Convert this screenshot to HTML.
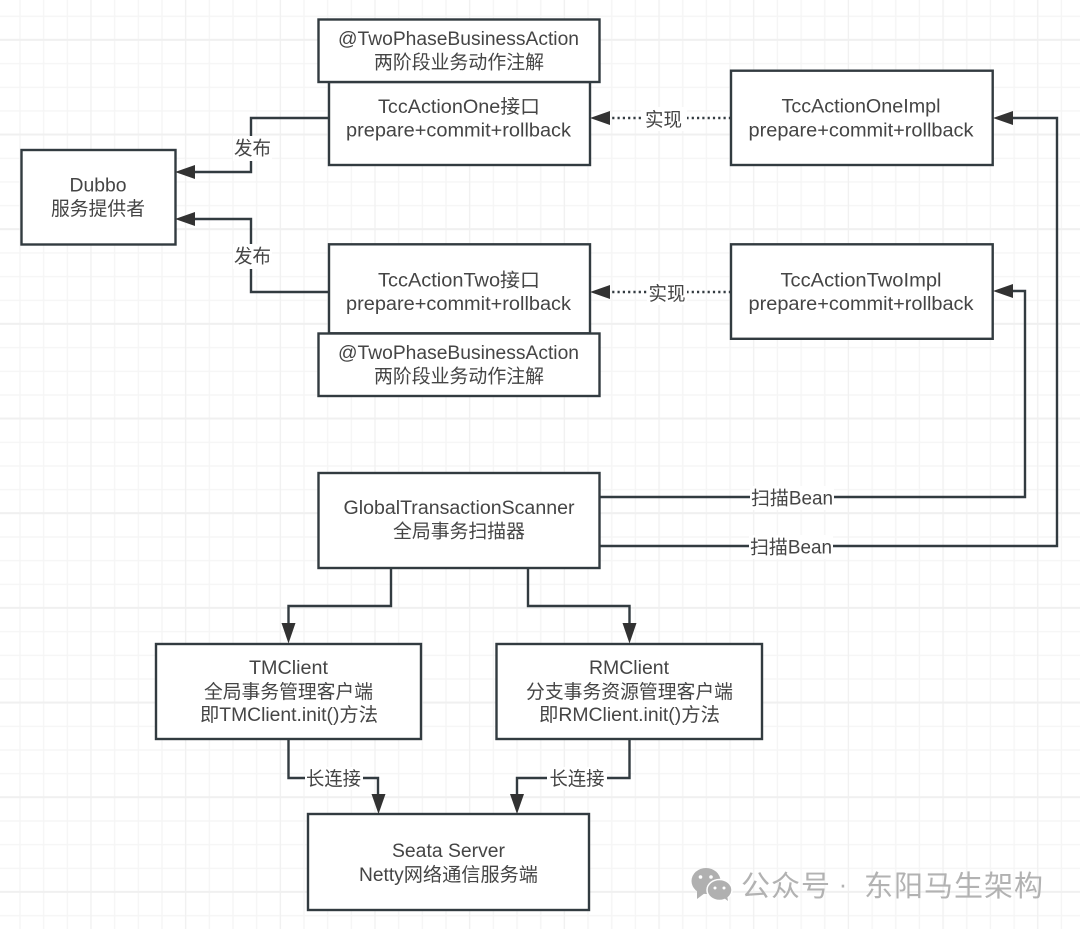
<!DOCTYPE html>
<html><head><meta charset="utf-8"><style>
html,body{margin:0;padding:0;background:#fff;width:1080px;height:929px;overflow:hidden}
svg{display:block}
text{font-family:"Liberation Sans","Noto Sans CJK SC",sans-serif;font-size:19px;fill:#444;text-anchor:middle}
.b{fill:#fff;stroke:#333b40;stroke-width:2.4}
.l{fill:none;stroke:#333b40;stroke-width:2.4}
.d{fill:none;stroke:#333b40;stroke-width:2.4;stroke-dasharray:2.2 3.1}
.a{fill:#333;stroke:none}
.w{fill:#fff;stroke:none}
</style></head><body>
<svg width="1080" height="929" viewBox="0 0 1080 929" xmlns="http://www.w3.org/2000/svg">
<defs>
<pattern id="g1" width="23.67" height="23.67" patternUnits="userSpaceOnUse" x="8.2" y="4.5">
<path d="M11.8 0V23.67M0 11.8H23.67" stroke="#f5f5f5" stroke-width="1.4" fill="none"/>
</pattern>
<pattern id="g2" width="94.67" height="94.67" patternUnits="userSpaceOnUse" x="-4.2" y="-7.5">
<path d="M0 0V94.67" stroke="#f0f0f0" stroke-width="2" fill="none"/>
<path d="M0 47.3H94.67" stroke="#f0f0f0" stroke-width="2" fill="none"/>
</pattern>
<filter id="s" x="-5%" y="-5%" width="110%" height="110%"><feGaussianBlur stdDeviation="0.35"/></filter>
</defs>
<rect width="1080" height="929" fill="#fff"/>
<rect width="1080" height="929" fill="url(#g1)"/>
<rect width="1080" height="929" fill="url(#g2)"/>
<g filter="url(#s)">
<!-- connectors -->
<path class="l" d="M329 118H251V172H190"/>
<path class="l" d="M329 292H251V219H190"/>
<path class="d" d="M731 118H605"/>
<path class="d" d="M731 292H605"/>
<path class="l" d="M600 497H1025V291H1008"/>
<path class="l" d="M600 546H1057V118H1008"/>
<path class="l" d="M391 568V606H288.500V630"/>
<path class="l" d="M528 568V606H629.500V630"/>
<path class="l" d="M288.500 739V778H378V800"/>
<path class="l" d="M629.500 739V778H517V800"/>
<!-- boxes -->
<rect class="b" x="329" y="82" width="261" height="83"/>
<rect class="b" x="318.500" y="19.500" width="281" height="62.500"/>
<rect class="b" x="21.500" y="150" width="154" height="94.500"/>
<rect class="b" x="731" y="70.700" width="261.700" height="94.300"/>
<rect class="b" x="731" y="244.300" width="261.700" height="94.500"/>
<rect class="b" x="329" y="244.300" width="261" height="89"/>
<rect class="b" x="318.500" y="333.500" width="281" height="62.500"/>
<rect class="b" x="318.500" y="473" width="281" height="95"/>
<rect class="b" x="156" y="644" width="265" height="95"/>
<rect class="b" x="496.500" y="644" width="265.500" height="95"/>
<rect class="b" x="308" y="814" width="281" height="96"/>
<!-- arrowheads -->
<path class="a" d="M175 172L195 165V179Z"/>
<path class="a" d="M175 219L195 212V226Z"/>
<path class="a" d="M590 118L610 111V125Z"/>
<path class="a" d="M590 292L610 285V299Z"/>
<path class="a" d="M993 118L1013 111V125Z"/>
<path class="a" d="M993 291L1013 284V298Z"/>
<path class="a" d="M288.500 643.500L281.500 623H295.500Z"/>
<path class="a" d="M629.500 643.500L622.500 623H636.500Z"/>
<path class="a" d="M378.500 814L371.500 794H385.500Z"/>
<path class="a" d="M517 814L510 794H524Z"/>
<!-- label backgrounds -->
<rect class="w" x="233" y="136" width="39" height="25"/>
<rect class="w" x="233" y="244" width="39" height="25"/>
<rect class="w" x="641" y="107" width="46" height="24"/>
<rect class="w" x="647" y="281" width="40" height="24"/>
<rect class="w" x="750" y="486" width="84" height="24"/>
<rect class="w" x="749" y="535" width="84" height="24"/>
<rect class="w" x="305" y="767" width="58" height="23"/>
<rect class="w" x="547" y="767" width="60" height="23"/>
<!-- text -->
<text x="458.500" y="45" textLength="241" lengthAdjust="spacingAndGlyphs">@TwoPhaseBusinessAction</text>
<text x="459" y="68.500" textLength="170" lengthAdjust="spacingAndGlyphs">两阶段业务动作注解</text>
<text x="459" y="113" textLength="162" lengthAdjust="spacingAndGlyphs">TccActionOne接口</text>
<text x="458.500" y="136.500" textLength="225" lengthAdjust="spacingAndGlyphs">prepare+commit+rollback</text>
<text x="861" y="112.500" textLength="159" lengthAdjust="spacingAndGlyphs">TccActionOneImpl</text>
<text x="861" y="136.500" textLength="225" lengthAdjust="spacingAndGlyphs">prepare+commit+rollback</text>
<text x="98" y="191.500" textLength="57" lengthAdjust="spacingAndGlyphs">Dubbo</text>
<text x="98" y="215" textLength="94" lengthAdjust="spacingAndGlyphs">服务提供者</text>
<text x="459" y="286.500" textLength="162" lengthAdjust="spacingAndGlyphs">TccActionTwo接口</text>
<text x="458.500" y="310" textLength="225" lengthAdjust="spacingAndGlyphs">prepare+commit+rollback</text>
<text x="861" y="286.500" textLength="161" lengthAdjust="spacingAndGlyphs">TccActionTwoImpl</text>
<text x="861" y="310" textLength="225" lengthAdjust="spacingAndGlyphs">prepare+commit+rollback</text>
<text x="458.500" y="359" textLength="241" lengthAdjust="spacingAndGlyphs">@TwoPhaseBusinessAction</text>
<text x="459" y="382.500" textLength="170" lengthAdjust="spacingAndGlyphs">两阶段业务动作注解</text>
<text x="459" y="514" textLength="231" lengthAdjust="spacingAndGlyphs">GlobalTransactionScanner</text>
<text x="459" y="537.500" textLength="132" lengthAdjust="spacingAndGlyphs">全局事务扫描器</text>
<text x="288.500" y="674" textLength="79" lengthAdjust="spacingAndGlyphs">TMClient</text>
<text x="288.500" y="698" textLength="169" lengthAdjust="spacingAndGlyphs">全局事务管理客户端</text>
<text x="289" y="721" textLength="178" lengthAdjust="spacingAndGlyphs">即TMClient.init()方法</text>
<text x="629" y="674" textLength="80" lengthAdjust="spacingAndGlyphs">RMClient</text>
<text x="629.500" y="698" textLength="207" lengthAdjust="spacingAndGlyphs">分支事务资源管理客户端</text>
<text x="629.500" y="721" textLength="181" lengthAdjust="spacingAndGlyphs">即RMClient.init()方法</text>
<text x="448.500" y="857" textLength="113" lengthAdjust="spacingAndGlyphs">Seata Server</text>
<text x="448.500" y="881" textLength="179" lengthAdjust="spacingAndGlyphs">Netty网络通信服务端</text>
<text x="252.500" y="154.500" textLength="37" lengthAdjust="spacingAndGlyphs">发布</text>
<text x="252.500" y="262.500" textLength="37" lengthAdjust="spacingAndGlyphs">发布</text>
<text x="663.500" y="126" textLength="37" lengthAdjust="spacingAndGlyphs">实现</text>
<text x="667" y="300" textLength="37" lengthAdjust="spacingAndGlyphs">实现</text>
<text x="792" y="504.500" textLength="82" lengthAdjust="spacingAndGlyphs">扫描Bean</text>
<text x="791" y="553.500" textLength="82" lengthAdjust="spacingAndGlyphs">扫描Bean</text>
<text x="333.500" y="785" textLength="55" lengthAdjust="spacingAndGlyphs">长连接</text>
<text x="577" y="785" textLength="55" lengthAdjust="spacingAndGlyphs">长连接</text>
<!-- watermark -->
<ellipse cx="706" cy="881" rx="14.500" ry="13" fill="#b0b0b0"/>
<path d="M697 891L697 899L705 893Z" fill="#b0b0b0"/>
<ellipse cx="719.500" cy="890" rx="12.500" ry="10.500" fill="#b0b0b0" stroke="#fff" stroke-width="1.500"/>
<path d="M724 898L728 901L727 895Z" fill="#b0b0b0"/>
<circle cx="700.500" cy="877" r="1.800" fill="#fff"/><circle cx="711" cy="877" r="1.800" fill="#fff"/>
<circle cx="715" cy="888" r="1.500" fill="#fff"/><circle cx="724" cy="888" r="1.500" fill="#fff"/>
<text x="741" y="896" style="text-anchor:start;font-size:29px;fill:#b2b2b2;letter-spacing:1px">公众号</text>
<text x="843" y="893" style="font-size:26px;fill:#b2b2b2">·</text>
<text x="864" y="896" style="text-anchor:start;font-size:29px;fill:#b2b2b2;letter-spacing:1px">东阳马生架构</text>
</g>
</svg>
</body></html>
